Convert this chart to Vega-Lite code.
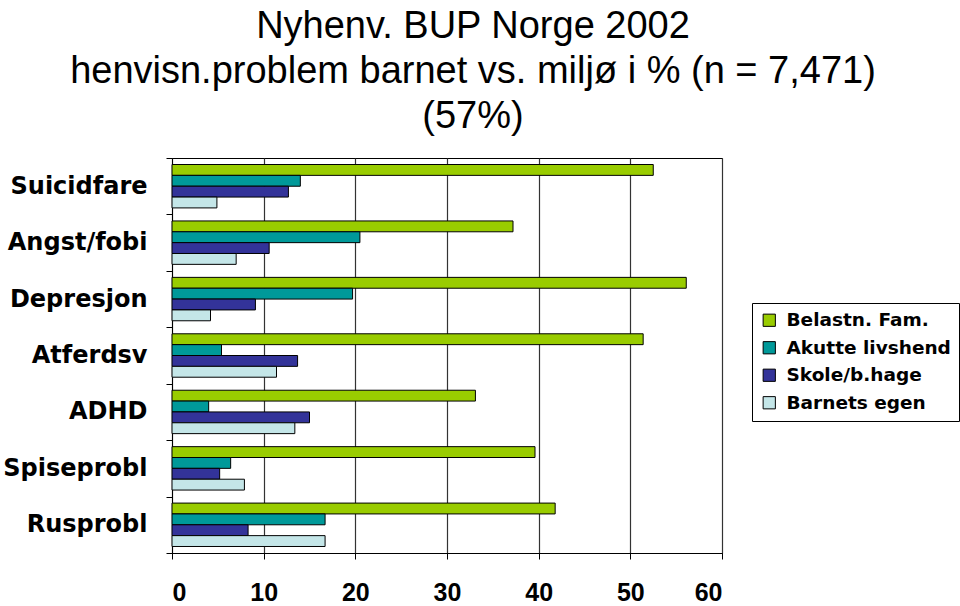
{
  "$schema": "https://vega.github.io/schema/vega-lite/v6.json",
  "width": 550,
  "height": 395,
  "autosize": {"type": "none"},
  "padding": {"left": 172, "top": 158, "right": 238, "bottom": 53},
  "background": "white",
  "title": {
    "text": ["Nyhenv. BUP Norge 2002", "henvisn.problem barnet vs. miljø i % (n = 7,471)", "(57%)"],
    "font": "Liberation Sans",
    "fontSize": 38,
    "fontWeight": "normal",
    "lineHeight": 45,
    "color": "black",
    "anchor": "middle",
    "dx": 26,
    "offset": 10
  },
  "data": {
    "values": [
      {"kategori": "Suicidfare", "serie": "Belastn. Fam.", "verdi": 52.5},
      {"kategori": "Suicidfare", "serie": "Akutte livshend", "verdi": 14.0},
      {"kategori": "Suicidfare", "serie": "Skole/b.hage", "verdi": 12.7},
      {"kategori": "Suicidfare", "serie": "Barnets egen", "verdi": 4.9},
      {"kategori": "Angst/fobi", "serie": "Belastn. Fam.", "verdi": 37.2},
      {"kategori": "Angst/fobi", "serie": "Akutte livshend", "verdi": 20.5},
      {"kategori": "Angst/fobi", "serie": "Skole/b.hage", "verdi": 10.6},
      {"kategori": "Angst/fobi", "serie": "Barnets egen", "verdi": 7.0},
      {"kategori": "Depresjon", "serie": "Belastn. Fam.", "verdi": 56.1},
      {"kategori": "Depresjon", "serie": "Akutte livshend", "verdi": 19.7},
      {"kategori": "Depresjon", "serie": "Skole/b.hage", "verdi": 9.1},
      {"kategori": "Depresjon", "serie": "Barnets egen", "verdi": 4.2},
      {"kategori": "Atferdsv", "serie": "Belastn. Fam.", "verdi": 51.4},
      {"kategori": "Atferdsv", "serie": "Akutte livshend", "verdi": 5.4},
      {"kategori": "Atferdsv", "serie": "Skole/b.hage", "verdi": 13.7},
      {"kategori": "Atferdsv", "serie": "Barnets egen", "verdi": 11.4},
      {"kategori": "ADHD", "serie": "Belastn. Fam.", "verdi": 33.1},
      {"kategori": "ADHD", "serie": "Akutte livshend", "verdi": 4.0},
      {"kategori": "ADHD", "serie": "Skole/b.hage", "verdi": 15.0},
      {"kategori": "ADHD", "serie": "Barnets egen", "verdi": 13.4},
      {"kategori": "Spiseprobl", "serie": "Belastn. Fam.", "verdi": 39.6},
      {"kategori": "Spiseprobl", "serie": "Akutte livshend", "verdi": 6.4},
      {"kategori": "Spiseprobl", "serie": "Skole/b.hage", "verdi": 5.2},
      {"kategori": "Spiseprobl", "serie": "Barnets egen", "verdi": 7.9},
      {"kategori": "Rusprobl", "serie": "Belastn. Fam.", "verdi": 41.8},
      {"kategori": "Rusprobl", "serie": "Akutte livshend", "verdi": 16.7},
      {"kategori": "Rusprobl", "serie": "Skole/b.hage", "verdi": 8.3},
      {"kategori": "Rusprobl", "serie": "Barnets egen", "verdi": 16.7}
    ]
  },
  "mark": {"type": "bar", "stroke": "black", "strokeWidth": 1},
  "encoding": {
    "y": {
      "field": "kategori",
      "type": "nominal",
      "sort": ["Suicidfare", "Angst/fobi", "Depresjon", "Atferdsv", "ADHD", "Spiseprobl", "Rusprobl"],
      "scale": {"paddingInner": 0, "paddingOuter": 0},
      "axis": {
        "title": null,
        "domain": true,
        "domainColor": "black",
        "ticks": true,
        "tickColor": "black",
        "tickSize": 6,
        "tickBand": "extent",
        "labelFont": "DejaVu Sans",
        "labelFontWeight": "bold",
        "labelFontSize": 24,
        "labelColor": "black",
        "labelPadding": 19,
        "grid": false
      }
    },
    "yOffset": {
      "field": "serie",
      "type": "nominal",
      "sort": ["Belastn. Fam.", "Akutte livshend", "Skole/b.hage", "Barnets egen"],
      "scale": {"paddingInner": 0, "paddingOuter": 0.6}
    },
    "x": {
      "field": "verdi",
      "type": "quantitative",
      "scale": {"domain": [0, 60], "nice": false},
      "axis": {
        "title": null,
        "values": [0, 10, 20, 30, 40, 50, 60],
        "domainColor": "black",
        "tickColor": "black",
        "tickSize": 6,
        "labelFont": "Liberation Sans",
        "labelFontWeight": "bold",
        "labelFontSize": 25,
        "labelColor": "black",
        "labelPadding": 21,
        "grid": true,
        "gridColor": "#333333",
        "gridWidth": 1.2
      }
    },
    "color": {
      "field": "serie",
      "type": "nominal",
      "sort": ["Belastn. Fam.", "Akutte livshend", "Skole/b.hage", "Barnets egen"],
      "scale": {
        "domain": ["Belastn. Fam.", "Akutte livshend", "Skole/b.hage", "Barnets egen"],
        "range": ["#99CC00", "#009999", "#333399", "#C4E6E8"]
      },
      "legend": {
        "title": null,
        "orient": "none",
        "legendX": 580,
        "legendY": 145,
        "symbolType": "square",
        "symbolSize": 150,
        "symbolStrokeColor": "black",
        "symbolStrokeWidth": 1,
        "symbolOpacity": 1,
        "labelFont": "DejaVu Sans",
        "labelFontWeight": "bold",
        "labelFontSize": 18.5,
        "labelColor": "black",
        "labelOffset": 8,
        "rowPadding": 8.5,
        "padding": 8,
        "strokeColor": "black",
        "fillColor": "white",
        "labelLimit": 300
      }
    }
  },
  "config": {
    "view": {"stroke": "black", "strokeWidth": 1},
    "axis": {"domainWidth": 1, "tickWidth": 1}
  }
}
